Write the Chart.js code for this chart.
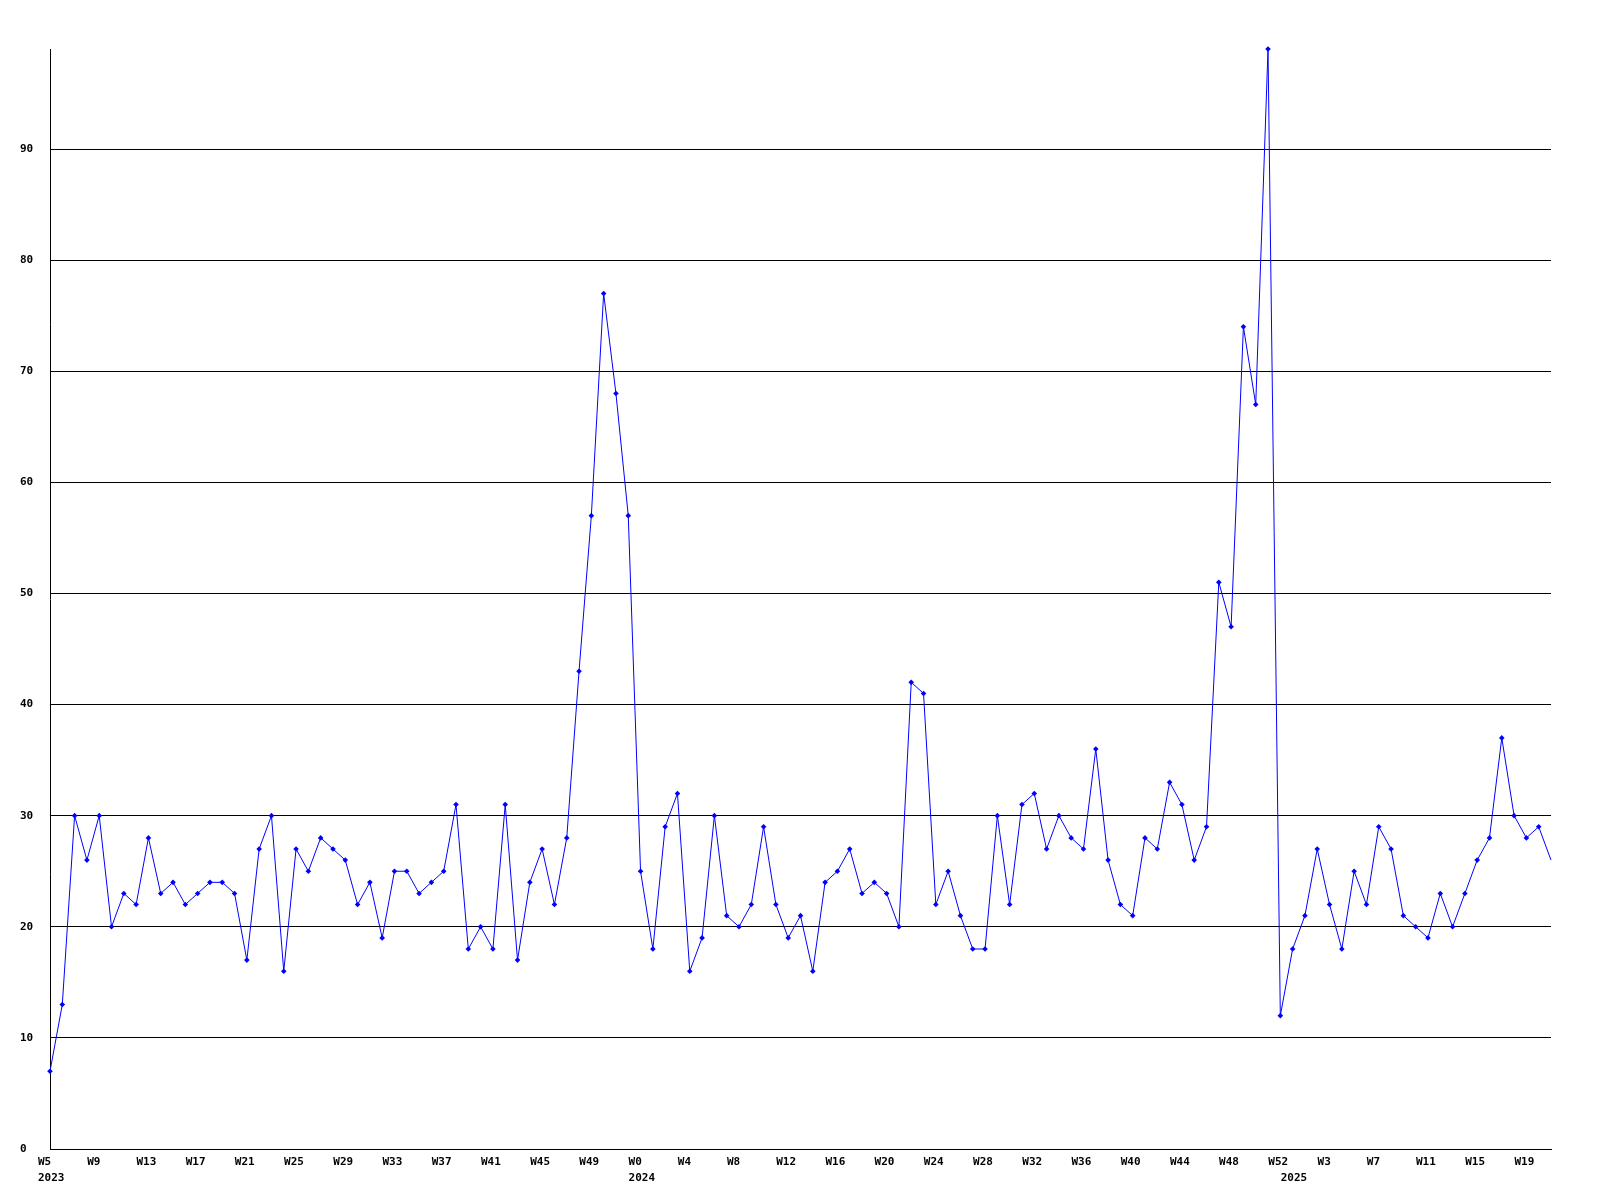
<!DOCTYPE html>
<html>
<head>
<meta charset="utf-8">
<script src="https://cdn.jsdelivr.net/npm/chart.js@4/dist/chart.umd.min.js"></script>
<style>
  html, body { margin: 0; padding: 0; background: #ffffff; }
  #wrap { width: 1600px; height: 1200px; }
</style>
</head>
<body>
<div id="wrap"><canvas id="c" width="1600" height="1200"></canvas></div>
<script>
// Week numbers per year (categories)
const weeks2023 = [5,6,7,8,9,10,11,12,13,14,15,16,17,18,19,20,21,22,23,24,25,26,27,28,29,30,31,32,33,34,35,36,37,38,39,40,41,42,43,44,45,46,47,48,49,50,51,52];
const weeks2024 = [0,1,2,3,4,5,6,7,8,9,10,11,12,13,14,15,16,17,18,19,20,21,22,23,24,25,26,27,28,29,30,31,32,33,34,35,36,37,38,39,40,41,42,43,44,45,46,47,48,49,50,51,52];
const weeks2025 = [0,1,2,3,4,5,6,7,8,9,10,11,12,13,14,15,16,17,18,19,20,21];
const years = ['2023', '2024', '2025'];

// Series values per year
const values2023 = [7,13,30,26,30,20,23,22,28,23,24,22,23,24,24,23,17,27,30,16,27,25,28,27,26,22,24,19,25,25,23,24,25,31,18,20,18,31,17,24,27,22,28,43,57,77,68,57];
const values2024 = [25,18,29,32,16,19,30,21,20,22,29,22,19,21,16,24,25,27,23,24,23,20,42,41,22,25,21,18,18,30,22,31,32,27,30,28,27,36,26,22,21,28,27,33,31,26,29,51,47,74,67,99,12];
const values2025 = [18,21,27,22,18,25,22,29,27,21,20,19,23,20,23,26,28,37,30,28,29,26];

// Y tick values
const yTicks = [0,10,20,30,40,50,60,70,80,90];
const yMax = 99;
const labelEvery = 4;

const weekGroups = [weeks2023, weeks2024, weeks2025];
const labels = [];
const yearOf = [];
const yearStart = {};
weekGroups.forEach((wk, gi) => {
  yearStart[labels.length] = years[gi];
  wk.forEach(w => { labels.push('W' + w); yearOf.push(years[gi]); });
});
const values = [].concat(values2023, values2024, values2025);

const FONT = { family: "'DejaVu Sans Mono', monospace", size: 11, weight: 'bold', lineHeight: '16px' };

const lastIdx = values.length - 1;

new Chart(document.getElementById('c'), {
  type: 'line',
  data: {
    labels: labels,
    datasets: [{
      data: values,
      borderColor: '#0000ff',
      backgroundColor: '#0000ff',
      borderWidth: 1,
      tension: 0,
      fill: false,
      clip: false,
      pointStyle: 'rectRot',
      pointRadius: ctx => (ctx.dataIndex === lastIdx ? 0 : 2.8),
      pointBorderWidth: 0,
      pointBackgroundColor: '#0000ff',
      pointHoverRadius: 2.8
    }]
  },
  options: {
    responsive: false,
    animation: false,
    devicePixelRatio: 1,
    layout: { padding: { left: 20, top: 49, right: 49, bottom: 0 } },
    plugins: { legend: { display: false }, tooltip: { enabled: false }, title: { display: false } },
    scales: {
      x: {
        type: 'category',
        offset: false,
        grid: { display: false, drawTicks: false },
        border: { display: true, color: '#000000', width: 1 },
        afterFit: s => { s.height = 51; },
        ticks: {
          autoSkip: false,
          maxRotation: 0,
          minRotation: 0,
          align: 'start',
          labelOffset: -12,
          padding: 5,
          color: '#000000',
          font: FONT,
          callback: function(val, idx) {
            const week = (idx % labelEvery === 0) ? labels[idx] : '';
            const yr = yearStart[idx];
            if (yr !== undefined) return [week, yr];
            return week;
          }
        }
      },
      y: {
        type: 'linear',
        min: 0,
        max: yMax,
        afterFit: s => { s.width = 30; },
        afterBuildTicks: s => { s.ticks = yTicks.map(v => ({ value: v })); },
        grid: { color: '#000000', lineWidth: 1, drawTicks: false },
        border: { display: true, color: '#000000', width: 1 },
        ticks: {
          crossAlign: 'far',
          padding: 17,
          color: '#000000',
          font: FONT,
          callback: v => String(v)
        }
      }
    }
  }
});
</script>
</body>
</html>
